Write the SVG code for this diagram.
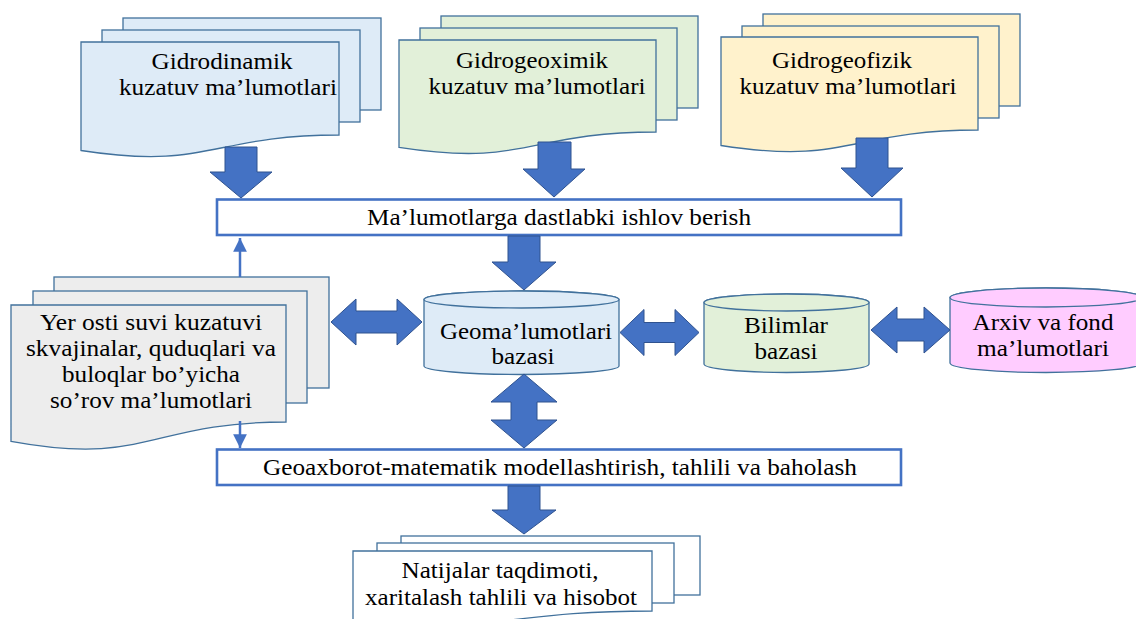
<svg xmlns="http://www.w3.org/2000/svg" width="1136" height="619" viewBox="0 0 1136 619">
<defs>
<style>
.t{font-family:'Liberation Serif','Times New Roman',serif;font-size:22.5px;fill:#000;text-anchor:middle}
.doc{stroke:#41719C;stroke-width:1.3}
.blue{fill:#DEEBF7}.green{fill:#E2F0D9}.yellow{fill:#FFF2CC}.gray{fill:#EDEDED}.white{fill:#FFFFFF}.pink{fill:#FFCCFF}
.box{fill:#FFFFFF;stroke:#4472C4;stroke-width:2.6}
.ba{fill:#4472C4;stroke:#2F528F;stroke-width:1}
.thin{stroke:#4472C4;stroke-width:2.5;fill:none}
</style>
<marker id="ah" viewBox="0 0 10 10" refX="10" refY="5" markerWidth="5.5" markerHeight="5.5" markerUnits="strokeWidth" orient="auto">
<path d="M0,0 L10,5 L0,10 Z" fill="#4472C4"/>
</marker>
</defs>
<rect width="1136" height="619" fill="#FFFFFF"/>

<g id="doc-gidrodinamik">
<rect class="doc blue" x="123" y="18" width="258" height="92"/>
<rect class="doc blue" x="102" y="30" width="258" height="92"/>
<path class="doc blue" d="M81,42 H339 V135 C210,135 210,170.5 81,150.5 Z"/>
<text class="t" x="222" y="69" textLength="141" lengthAdjust="spacingAndGlyphs">Gidrodinamik</text>
<text class="t" x="228" y="95" textLength="218" lengthAdjust="spacingAndGlyphs">kuzatuv ma’lumotlari</text>
</g>

<g id="doc-gidrogeoximik">
<rect class="doc green" x="441" y="16" width="257" height="92"/>
<rect class="doc green" x="420" y="28" width="257" height="92"/>
<path class="doc green" d="M399,40 H656 V132 C527.5,132 527.5,167.4 399,147.4 Z"/>
<text class="t" x="532" y="68" textLength="152" lengthAdjust="spacingAndGlyphs">Gidrogeoximik</text>
<text class="t" x="537" y="94" textLength="217" lengthAdjust="spacingAndGlyphs">kuzatuv ma’lumotlari</text>
</g>

<g id="doc-gidrogeofizik">
<rect class="doc yellow" x="763" y="14" width="257" height="92"/>
<rect class="doc yellow" x="742" y="26" width="257" height="92"/>
<path class="doc yellow" d="M721,37 H978 V130 C849.5,130 849.5,165.5 721,145.5 Z"/>
<text class="t" x="842" y="68" textLength="140" lengthAdjust="spacingAndGlyphs">Gidrogeofizik</text>
<text class="t" x="848" y="94" textLength="217" lengthAdjust="spacingAndGlyphs">kuzatuv ma’lumotlari</text>
</g>

<g id="box-dastlabki">
<rect class="box" x="217" y="199.5" width="684" height="35.5"/>
<text class="t" x="559" y="225" textLength="384" lengthAdjust="spacingAndGlyphs">Ma’lumotlarga dastlabki ishlov berish</text>
</g>

<g id="doc-sorov">
<rect class="doc gray" x="54" y="277" width="275" height="111"/>
<rect class="doc gray" x="33" y="291" width="274" height="112"/>
<path class="doc gray" d="M11,305 H286 V422 C148.5,422 148.5,466.7 11,441.4 Z"/>
<text class="t" x="151" y="330" textLength="222" lengthAdjust="spacingAndGlyphs">Yer osti suvi kuzatuvi</text>
<text class="t" x="151" y="356" textLength="250" lengthAdjust="spacingAndGlyphs">skvajinalar, quduqlari va</text>
<text class="t" x="151" y="382" textLength="178" lengthAdjust="spacingAndGlyphs">buloqlar bo’yicha</text>
<text class="t" x="151" y="408" textLength="202" lengthAdjust="spacingAndGlyphs">so’rov ma’lumotlari</text>
</g>

<g id="db-geomalumotlari">
<path class="doc blue" d="M424,299.5 A97.5,8.5 0 0 1 619,299.5 V366 A97.5,8.5 0 0 1 424,366 Z"/>
<ellipse class="doc blue" cx="521.5" cy="299.5" rx="97.5" ry="8.5"/>
<text class="t" x="526" y="339" textLength="172" lengthAdjust="spacingAndGlyphs">Geoma’lumotlari</text>
<text class="t" x="523" y="364" textLength="63" lengthAdjust="spacingAndGlyphs">bazasi</text>
</g>

<g id="db-bilimlar">
<path class="doc green" d="M704,302.5 A82.5,8.5 0 0 1 869,302.5 V364 A82.5,8.5 0 0 1 704,364 Z"/>
<ellipse class="doc green" cx="786.5" cy="302.5" rx="82.5" ry="8.5"/>
<text class="t" x="786" y="333" textLength="84" lengthAdjust="spacingAndGlyphs">Bilimlar</text>
<text class="t" x="786" y="359" textLength="63" lengthAdjust="spacingAndGlyphs">bazasi</text>
</g>

<g id="db-arxiv">
<path class="doc pink" d="M950,297.5 A96,9.5 0 0 1 1142,297.5 V363 A96,9.5 0 0 1 950,363 Z"/>
<ellipse class="doc pink" cx="1046" cy="297.5" rx="96" ry="9.5"/>
<text class="t" x="1043" y="330" textLength="141" lengthAdjust="spacingAndGlyphs">Arxiv va fond</text>
<text class="t" x="1043" y="356" textLength="132" lengthAdjust="spacingAndGlyphs">ma’lumotlari</text>
</g>

<g id="box-modellashtirish">
<rect class="box" x="217" y="449.5" width="684" height="35.5"/>
<text class="t" x="560" y="475" textLength="594" lengthAdjust="spacingAndGlyphs">Geoaxborot-matematik modellashtirish, tahlili va baholash</text>
</g>

<g id="doc-natijalar">
<rect class="doc white" x="401" y="536" width="299" height="59"/>
<rect class="doc white" x="377" y="543" width="297" height="60"/>
<path class="doc white" d="M353,551 H652 V611 C502.5,611 502.5,634 353,621 Z"/>
<text class="t" x="500" y="578" textLength="197" lengthAdjust="spacingAndGlyphs">Natijalar taqdimoti,</text>
<text class="t" x="501" y="605" textLength="272" lengthAdjust="spacingAndGlyphs">xaritalash tahlili va hisobot</text>
</g>

<g id="connectors">
<path class="ba" d="M225,147 H257 V172 H272 L241,198 L210,172 H225 Z"/>
<path class="ba" d="M538,142 H571 V169 H585 L554,197 L523,169 H538 Z"/>
<path class="ba" d="M856,138 H888 V168 H903 L872,197 L841,168 H856 Z"/>
<path class="ba" d="M508,236 H540 V262 H556 L524,290 L492,262 H508 Z"/>
<path class="ba" d="M508,486 H540 V510 H556 L524,534 L492,510 H508 Z"/>
<path class="ba" d="M331,322 L356,299 V311 H397 V299 L422,322 L397,345 V333 H356 V345 Z"/>
<path class="ba" d="M620,332.5 L644,309.5 V322.5 H675 V309.5 L699,332.5 L675,355.5 V342.5 H644 V355.5 Z"/>
<path class="ba" d="M871,330 L897,307 V319 H924 V307 L950,330 L924,353 V341 H897 V353 Z"/>
<path class="ba" d="M524,374 L557,402 H537 V420 H557 L524,448 L491,420 H511 V402 H491 Z"/>
<line class="thin" x1="240" y1="277" x2="240" y2="238" marker-end="url(#ah)"/>
<line class="thin" x1="240" y1="421" x2="240" y2="448" marker-end="url(#ah)"/>
</g>
</svg>
